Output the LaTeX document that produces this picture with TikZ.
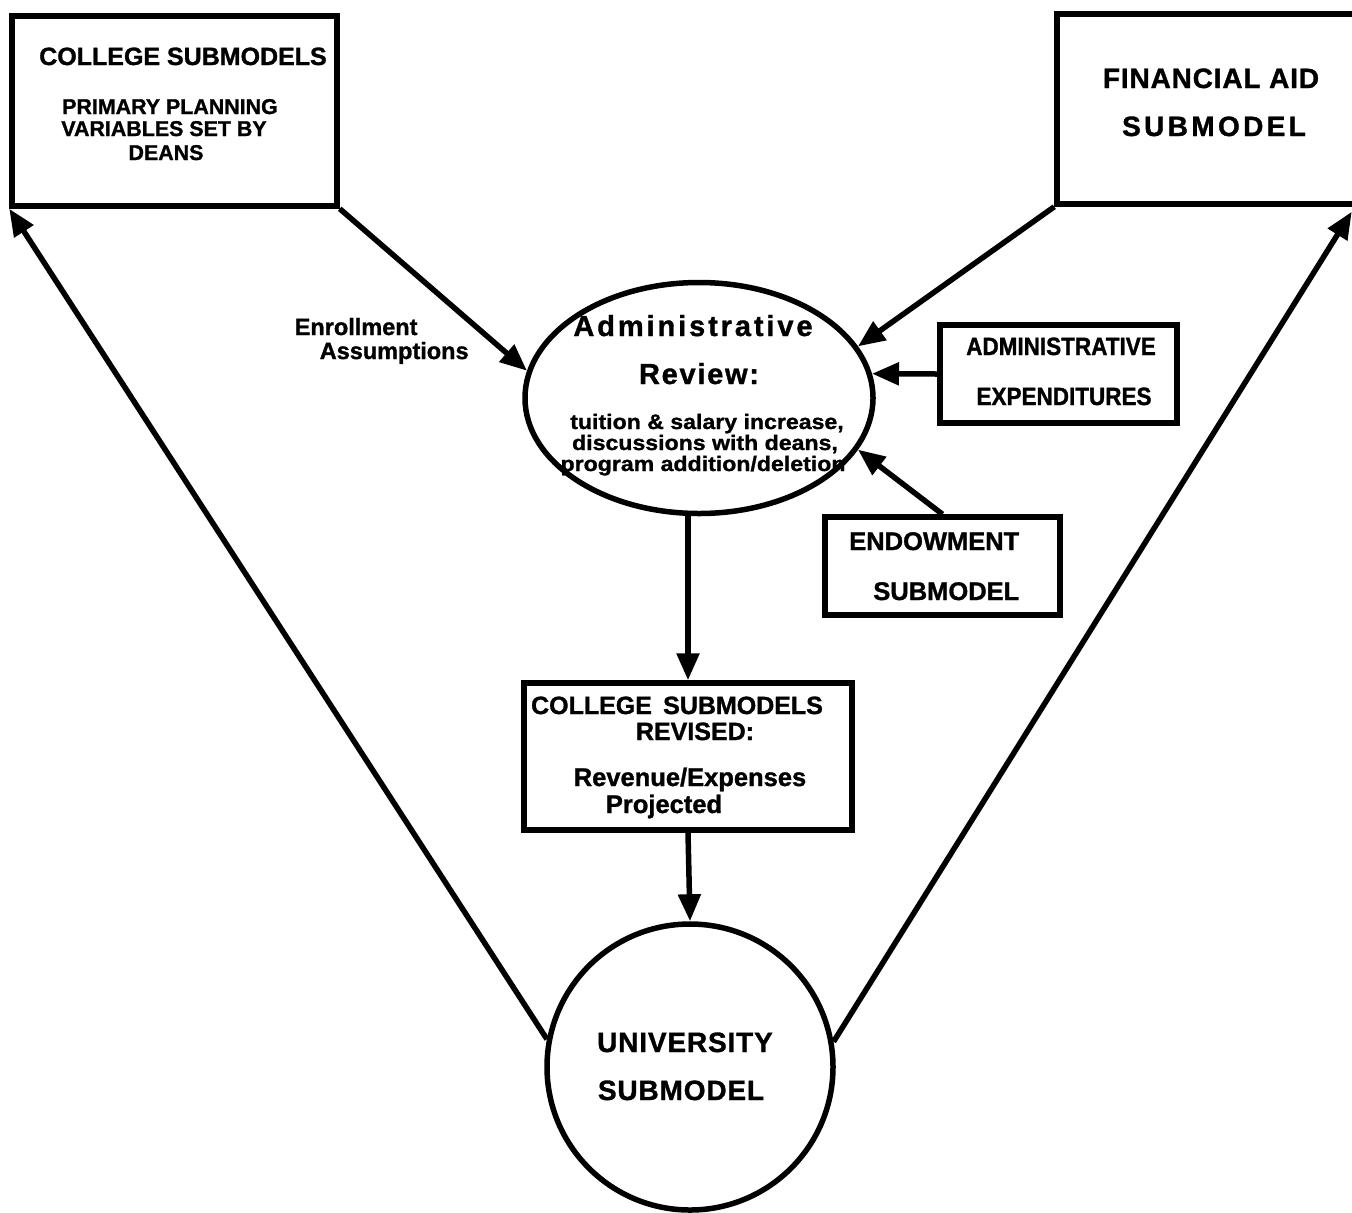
\documentclass[tikz,border=0pt]{standalone}
\usepackage{fontspec}
\setmainfont{Liberation Sans}[BoldFeatures={FakeBold=1.2}]
\usetikzlibrary{shapes.geometric,arrows.meta,calc}
\newcommand\fsz[2]{\fontsize{#1bp}{#2bp}\selectfont\bfseries}
\begin{document}
\begin{tikzpicture}[x=1bp,y=-1bp,
  line width=5.5bp,
  box/.style={draw, rectangle, inner sep=0pt},
  arr/.style={-{Triangle[length=27bp,width=22bp]}, line width=5.5bp},
  txt/.style={anchor=base, inner sep=0pt},
  txtr/.style={anchor=base east, inner sep=0pt},
  txtl/.style={anchor=base west, inner sep=0pt}]
\useasboundingbox (0,0) rectangle (1352,1212);

% shapes
\node[box, minimum width=325bp, minimum height=190bp] (tl) at (174.5,111) {};
\node[box, minimum width=300bp, minimum height=190bp] (tr) at (1207,109) {};
\node[draw, ellipse, minimum width=348bp, minimum height=231bp, inner sep=0pt] (adm) at (699,398) {};
\node[box, minimum width=237bp, minimum height=98bp] (aexp) at (1058.5,374) {};
\node[box, minimum width=235bp, minimum height=98bp] (endow) at (942.5,566) {};
\node[box, minimum width=328bp, minimum height=147bp] (rev) at (688,756.5) {};
\node[draw, circle, minimum size=286bp, inner sep=0pt] (univ) at (690,1067) {};

% texts
\node[txt] (tl1) at (183,65) {\fsz{25}{27}COLLEGE SUBMODELS};
\node[txt] (tl2) at (170,114) {\fsz{21.4}{22}PRIMARY PLANNING};
\node[txt] (tl3) at (164,136) {\fsz{21.4}{22}VARIABLES SET BY};
\node[txt] (tl4) at (166,160) {\fsz{21.4}{22}DEANS};

\node[txt] (tr1) at (1211,88) {\fsz{28}{30}\addfontfeature{LetterSpace=3}FINANCIAL AID};
\node[txt] (tr2) at (1214,136) {\fsz{28}{30}\addfontfeature{LetterSpace=12}SUBMODEL};

\node[txtl] (en1) at (292,335) {\fsz{23.5}{25}Enrollment};
\node[txtl] (en2) at (317,359) {\fsz{23.5}{25}Assumptions};

\node[txt] (ad1) at (693,336) {\fsz{29}{31}\addfontfeature{LetterSpace=10}Administrative};
\node[txt] (ad2) at (699,384) {\fsz{29}{31}\addfontfeature{LetterSpace=6}Review:};
\node[txt] (ad3) at (707,429) {\fsz{21}{22}\addfontfeature{FakeStretch=1.1}tuition \& salary increase,};
\node[txt] (ad4) at (705,450) {\fsz{21}{22}\addfontfeature{FakeStretch=1.1}discussions with deans,};
\node[txt] (ad5) at (703,471) {\fsz{21}{22}\addfontfeature{FakeStretch=1.1}program addition/deletion};

\node[txt] (ax1) at (1061,355) {\fsz{25}{27}\addfontfeature{FakeStretch=0.9}ADMINISTRATIVE};
\node[txt] (ax2) at (1064,405) {\fsz{25}{27}\addfontfeature{FakeStretch=0.9}EXPENDITURES};

\node[txtr] (ed1) at (1022,550) {\fsz{25.5}{27}ENDOWMENT};
\node[txtr] (ed2) at (1022,600) {\fsz{25.5}{27}SUBMODEL};

\node[txt] (rv1) at (677,714) {\fsz{25}{27}COLLEGE\hspace{0.45em}SUBMODELS};
\node[txt] (rv2) at (695,740) {\fsz{25}{27}REVISED:};
\node[txt] (rv3) at (690,786) {\fsz{25.5}{27}Revenue/Expenses};
\node[txt] (rv4) at (664,813) {\fsz{25.5}{27}Projected};

\node[txt] (un1) at (685,1052) {\fsz{28}{30}\addfontfeature{LetterSpace=3}UNIVERSITY};
\node[txt] (un2) at (681,1100) {\fsz{28}{30}\addfontfeature{LetterSpace=3}SUBMODEL};

% connectors
\draw[arr] (tl.south east) -- (adm.171);
\draw[arr] (tr.south west) -- (adm.18);
\draw[arr] (aexp.west) -- (adm.8);
\draw[arr] (endow.north) -- (adm.342);
\draw[arr] (rev.north |- adm.south) -- (rev.north);
\draw[arr] (rev.south) -- (univ.north);
\draw[arr] (univ.169) -- (tl.south west);
\draw[arr] (univ.10) -- ([xshift=-8bp,yshift=-5bp]tr.south east);
\end{tikzpicture}
\end{document}
